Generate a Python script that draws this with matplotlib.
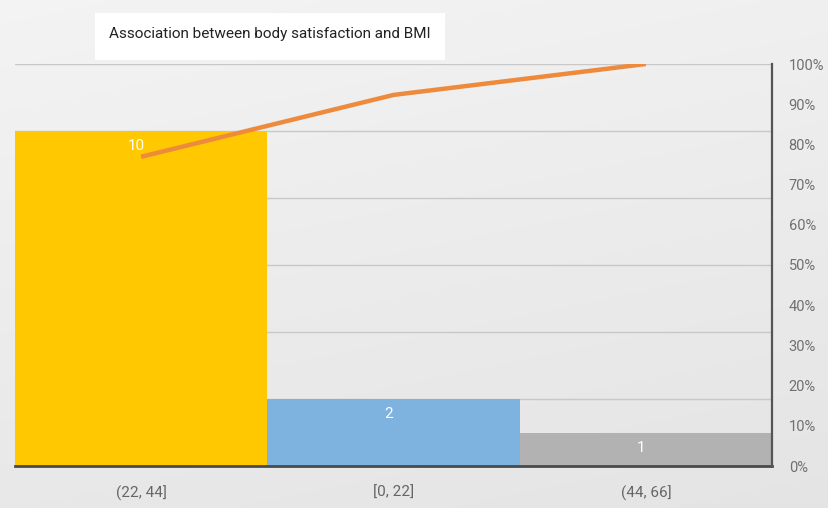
import numpy as np
import matplotlib
matplotlib.use("Agg")
import matplotlib.pyplot as plt
from matplotlib.ticker import FuncFormatter

categories = ["(22, 44]", "[0, 22]", "(44, 66]"]
counts = [10, 2, 1]
bar_colors = ["#FFC800", "#7EB2DF", "#B2B2B2"]
cumulative_pct = list(np.cumsum(counts) / np.sum(counts) * 100)
pct_ticks = [0, 10, 20, 30, 40, 50, 60, 70, 80, 90, 100]
title = "Association between body satisfaction and BMI"

W, H = 829, 508
fig = plt.figure(figsize=(W / 100, H / 100), dpi=100)
fig.patch.set_facecolor("#ebebeb")

# soft background gradient
yy, xx = np.mgrid[0:H, 0:W]
g = 0.955 - 0.045 * (yy / H) - 0.015 * (xx / W)
bg = np.dstack([g, g, g])
fig.figimage(bg, 0, 0, zorder=-10)

font = ["Roboto", "DejaVu Sans"]

ax = fig.add_axes([15 / W, 1 - 466 / H, 757 / W, 402 / H])
ax.set_zorder(2)
ax.set_facecolor("none")
x = np.arange(len(categories))
ax.bar(x, counts, width=1.0, color=bar_colors, zorder=3)
ax.set_xlim(-0.5, len(categories) - 0.5)
ax.set_ylim(0, 12)
ax.set_yticks([0, 2, 4, 6, 8, 10, 12])
ax.yaxis.grid(True, color="#c8c8c8", linewidth=1.0, zorder=0)
ax.set_xticks(x)
ax.set_xticklabels(categories, fontfamily=font)
for s in ["top", "left", "right"]:
    ax.spines[s].set_visible(False)
ax.spines["bottom"].set_color("#4a4a4a")
ax.spines["bottom"].set_linewidth(2)
ax.spines["bottom"].set_zorder(5)

for xi, c in zip(x, counts):
    ax.text(xi - 0.02, c - 0.45, str(c), ha="center", va="center", color="white",
            fontsize=11, fontfamily=font, zorder=6)

ax2 = ax.twinx()
ax2.set_zorder(3)
ax2.set_facecolor("none")
ax2.set_ylim(0, 100)
ax2.plot(x, cumulative_pct, color="#EE8A3C", linewidth=3.2, zorder=7,
         solid_capstyle="butt")
ax2.set_yticks(pct_ticks)
ax2.yaxis.set_major_formatter(FuncFormatter(lambda v, p: f"{int(v)}%"))
ax2.tick_params(axis="y", length=0, pad=12, labelsize=10.5, colors="#707070")
for lbl in ax2.get_yticklabels():
    lbl.set_fontfamily(font)
for s in ["top", "left", "bottom"]:
    ax2.spines[s].set_visible(False)
ax2.spines["right"].set_color("#555555")
ax2.spines["right"].set_linewidth(1.6)

ax.tick_params(axis="y", left=False, right=False, labelleft=False, labelright=False)
ax.tick_params(axis="x", length=0, pad=14, labelsize=11, colors="#666666")

# title box
fig.patches.append(plt.Rectangle((95 / W, 1 - 60 / H), 350 / W, 47 / H,
                                 transform=fig.transFigure, facecolor="white",
                                 edgecolor="none", zorder=9))
fig.text(270 / W, 1 - 34 / H, title, ha="center", va="center", fontsize=11,
         fontfamily=font, color="#222222", zorder=10)

fig.savefig("out.png", dpi=100, facecolor=fig.get_facecolor())
